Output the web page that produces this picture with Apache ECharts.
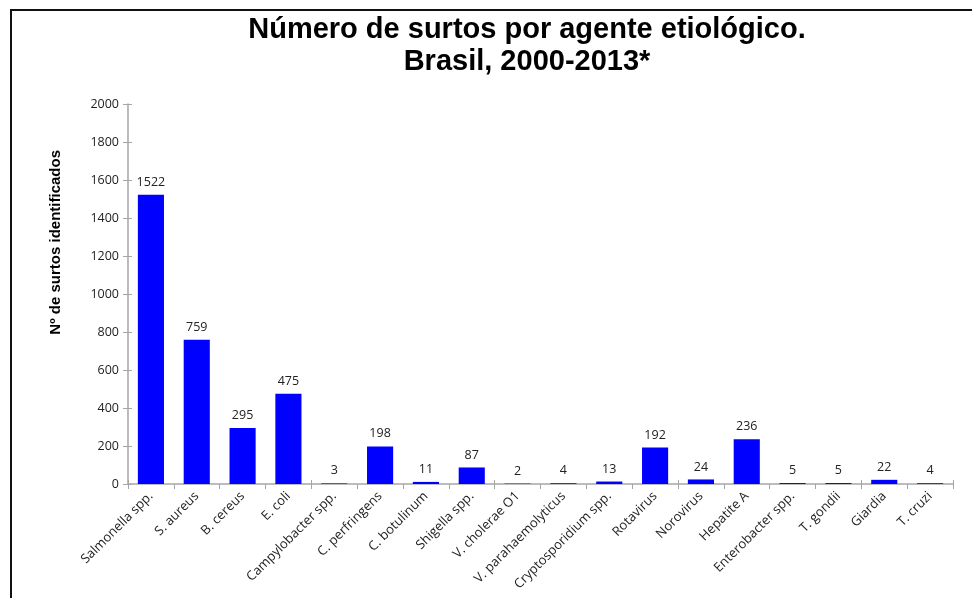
<!DOCTYPE html>
<html>
<head>
<meta charset="utf-8">
<script src="https://cdn.jsdelivr.net/npm/echarts@6/dist/echarts.min.js"></script>
<style>
html, body { margin: 0; padding: 0; background: #fff; }
#main { width: 972px; height: 598px; }
</style>
</head>
<body>
<div id="main"></div>
<script>
var agentes = ['Salmonella spp.', 'S. aureus', 'B. cereus', 'E. coli', 'Campylobacter spp.',
    'C. perfringens', 'C. botulinum', 'Shigella spp.', 'V. cholerae O1', 'V. parahaemolyticus',
    'Cryptosporidium spp.', 'Rotavirus', 'Norovirus', 'Hepatite A', 'Enterobacter spp.',
    'T. gondii', 'Giardia', 'T. cruzi'];
var surtos = [1522, 759, 295, 475, 3, 198, 11, 87, 2, 4, 13, 192, 24, 236, 5, 5, 22, 4];
var yMin = 0, yMax = 2000, yStep = 200;

var chart = echarts.init(document.getElementById('main'));
var axisGray = '#a6a6a6';
var option = {
    animation: false,
    backgroundColor: '#fff',
    title: {
        text: 'Número de surtos por agente etiológico.\nBrasil, 2000-2013*',
        left: 522,
        textAlign: 'center',
        top: 9,
        textStyle: {
            fontFamily: 'Liberation Sans',
            fontWeight: 'bold',
            fontSize: 29,
            lineHeight: 32,
            color: '#000'
        }
    },
    grid: { left: 128, right: 19, top: 104, bottom: 114 },
    xAxis: [{
        type: 'category',
        data: agentes,
        axisLine: { lineStyle: { color: axisGray, width: 1.5 } },
        axisTick: { show: true, length: 5, lineStyle: { color: axisGray } },
        axisLabel: {
            rotate: 45, interval: 0, margin: 10,
            fontFamily: 'Open Sans', fontSize: 13, color: '#222'
        }
    }, {
        type: 'category',
        data: agentes,
        position: 'bottom',
        axisLine: { show: false },
        axisTick: { show: true, inside: true, length: 4, lineStyle: { color: axisGray } },
        axisLabel: { show: false }
    }],
    yAxis: [{
        type: 'value',
        min: yMin, max: yMax, interval: yStep,
        splitLine: { show: false },
        axisLine: { show: true, lineStyle: { color: axisGray, width: 1.5 } },
        axisTick: { show: true, length: 5, lineStyle: { color: axisGray } },
        axisLabel: {
            fontFamily: 'Open Sans', fontSize: 12.5, color: '#222', margin: 9,
            formatter: function (v) { return String(v); }
        }
    }, {
        type: 'value',
        position: 'left',
        min: yMin, max: yMax, interval: yStep,
        splitLine: { show: false },
        axisLine: { show: false },
        axisTick: { show: true, inside: true, length: 4, lineStyle: { color: axisGray } },
        axisLabel: { show: false }
    }],
    series: [{
        type: 'bar',
        data: surtos,
        barCategoryGap: '43%',
        itemStyle: { color: '#0000ff' },
        label: {
            show: true, position: 'top', distance: 6,
            fontFamily: 'Open Sans', fontSize: 12.5, color: '#222'
        }
    }],
    graphic: [{
        type: 'text',
        left: 48, top: 150,
        rotation: Math.PI / 2,
        style: {
            text: 'Nº de surtos identificados',
            fontFamily: 'Liberation Sans', fontWeight: 'bold', fontSize: 15,
            fill: '#000'
        }
    }, {
        type: 'line',
        shape: { x1: 10, y1: 10, x2: 972, y2: 10 },
        style: { stroke: '#111', lineWidth: 2 }
    }, {
        type: 'line',
        shape: { x1: 11, y1: 10, x2: 11, y2: 598 },
        style: { stroke: '#111', lineWidth: 2 }
    }]
};
chart.setOption(option);
</script>
</body>
</html>
